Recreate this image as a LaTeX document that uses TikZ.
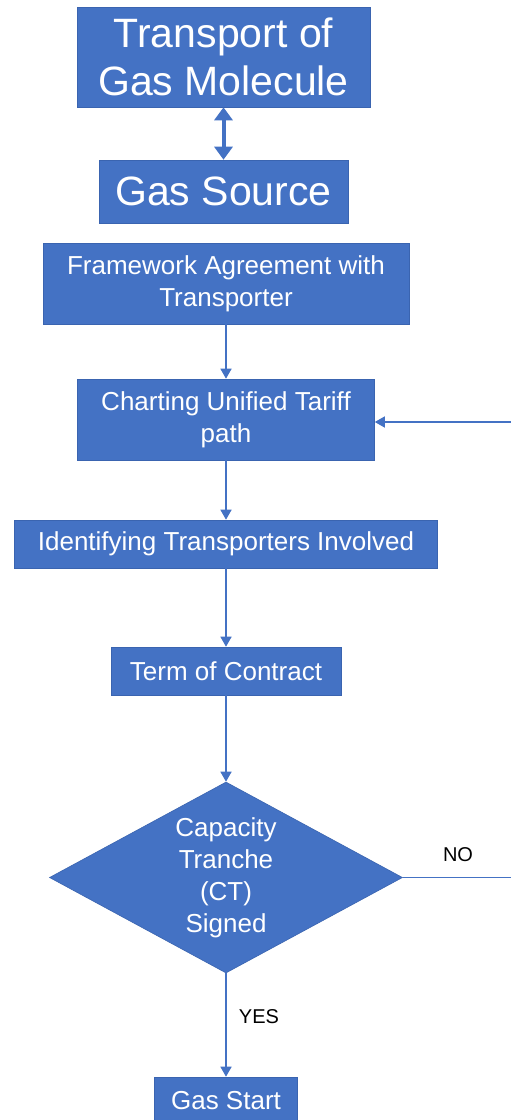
\documentclass[tikz,border=0pt]{standalone}
\usepackage{fontspec}
\setmainfont{Liberation Sans}
\usetikzlibrary{shapes.geometric,arrows.meta}
\definecolor{boxblue}{HTML}{4472C4}
\definecolor{boxedge}{HTML}{3A64B0}
\begin{document}
\begin{tikzpicture}[x=1pt,y=-1pt,
  bluebox/.style={rectangle,fill=boxblue,draw=boxedge,line width=0.6pt,inner sep=0pt,align=center,text=white},
  bigtext/.style={font=\fontsize{41}{48}\selectfont},
  midtext/.style={font=\fontsize{26}{32}\selectfont},
  lbl/.style={font=\fontsize{20}{24}\selectfont,text=black},
  arr/.style={draw=boxblue,line width=1.5pt,-{Triangle[length=10pt,width=11pt]}},
  conn/.style={draw=boxblue,line width=1.5pt}]
\clip (0,0) rectangle (511,1120);
\fill[white] (0,0) rectangle (511,1120);

\node[bluebox,bigtext,minimum width=293pt,minimum height=100pt] (top) at (223.5,57) {Transport of\\Gas Molecule};
\node[bluebox,bigtext,minimum width=249pt,minimum height=63pt] (src) at (223.5,191.5) {Gas Source};
\node[bluebox,midtext,minimum width=366pt,minimum height=81pt] (fw) at (226,283.5) {Framework Agreement with\\Transporter};
\node[bluebox,midtext,minimum width=297pt,minimum height=81pt] (chart) at (226,419.5) {Charting Unified Tariff\\path};
\node[bluebox,midtext,minimum width=423pt,minimum height=48pt] (ident) at (226,544) {Identifying Transporters Involved};
\node[bluebox,midtext,minimum width=230pt,minimum height=48pt] (term) at (226,671) {Term of Contract};
\node[diamond,fill=boxblue,draw=boxedge,line width=0.6pt,inner sep=0pt,aspect=1.85,
      minimum width=353pt,minimum height=191pt,align=center,text=white,midtext] (dia) at (226,877.5)
      {Capacity\\Tranche\\(CT)\\Signed};
\node[bluebox,midtext,minimum width=143pt,minimum height=48pt] (start) at (226,1101) {Gas Start};

\coordinate (noend) at (511,877.5);
\coordinate (backin) at (511,422);

\draw[draw=boxblue,line width=4pt,{Triangle[length=13pt,width=18pt]}-{Triangle[length=13pt,width=18pt]}] (top.south) -- (src.north);
\draw[arr] (fw.south) -- (chart.north);
\draw[arr] (chart.south) -- (ident.north);
\draw[arr] (ident.south) -- (term.north);
\draw[arr] (term.south) -- (dia.north);
\draw[arr] (dia.south) -- (start.north);
\draw[conn] (dia.east) -- (noend);
\draw[arr] (backin) -- (backin -| chart.east);

\node[lbl] (no) at (458,855) {NO};
\node[lbl] (yes) at (259,1017) {YES};
\end{tikzpicture}
\end{document}
